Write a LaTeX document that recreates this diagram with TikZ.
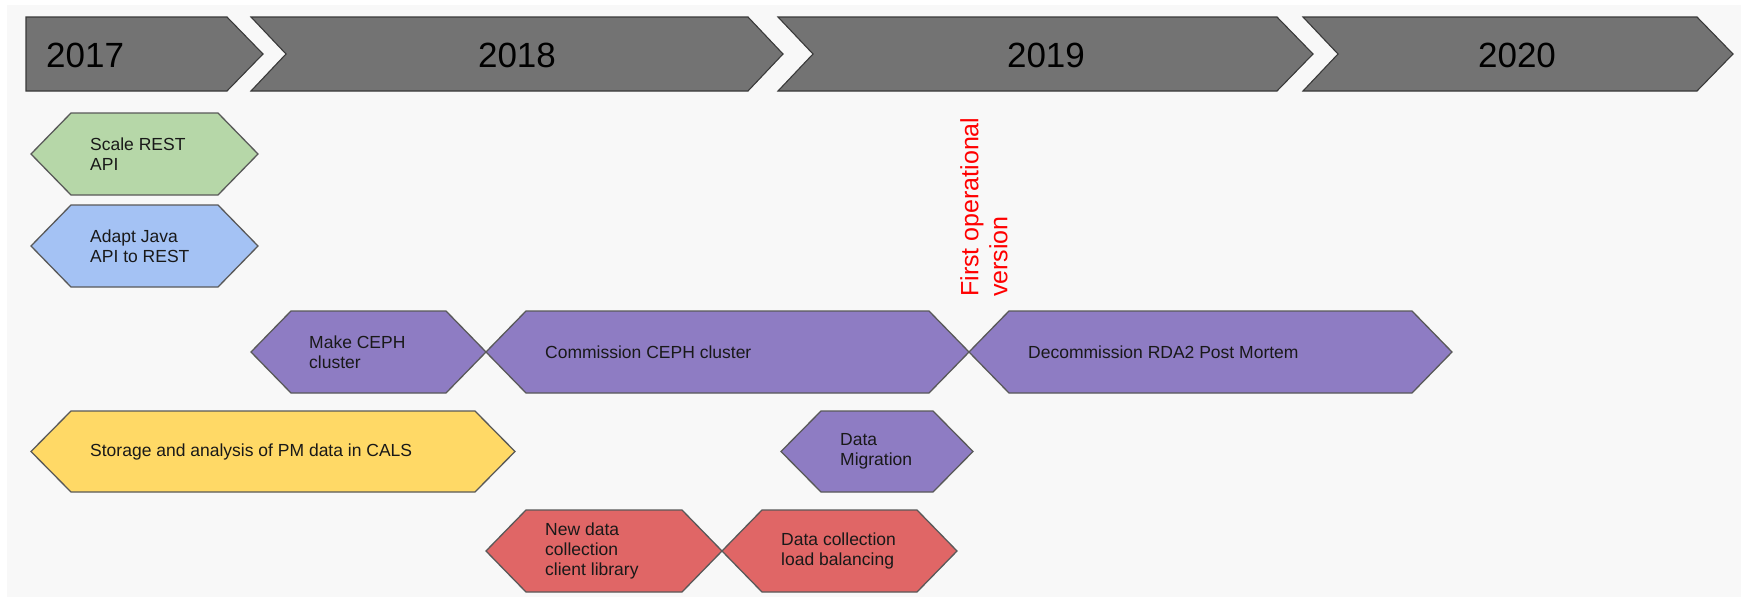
\documentclass[tikz,border=0pt]{standalone}
\usepackage{fontspec}
\setmainfont{Liberation Sans}
\definecolor{pagebg}{HTML}{F8F8F8}
\definecolor{yearfill}{HTML}{737373}
\definecolor{yearline}{HTML}{3A3A3A}
\definecolor{taskline}{HTML}{595959}
\definecolor{greenfill}{HTML}{B6D7A8}
\definecolor{bluefill}{HTML}{A4C2F4}
\definecolor{purplefill}{HTML}{8E7CC3}
\definecolor{yellowfill}{HTML}{FFD966}
\definecolor{redfill}{HTML}{E06666}
% hexagonal task bar: fill, left tip x, right tip x, top y, bottom y
\newcommand{\taskbar}[5]{%
  \filldraw[taskbox, fill=#1] (#2,{(#4+#5)/2}) -- ({#2+40},#4) -- ({#3-40},#4)
    -- (#3,{(#4+#5)/2}) -- ({#3-40},#5) -- ({#2+40},#5) -- cycle;}
\begin{document}
\begin{tikzpicture}[x=1pt,y=-1pt,
  yearbox/.style={fill=yearfill, draw=yearline, line width=1.1pt, line join=miter},
  taskbox/.style={draw=taskline, line width=1.3pt, line join=miter},
  yearlabel/.style={inner sep=0pt, font=\fontsize{35}{40}\selectfont, text=black},
  tasklabel/.style={anchor=west, align=left, inner sep=0pt,
    font=\fontsize{17.5}{20}\selectfont, text=black!90},
  milestonelabel/.style={rotate=90, anchor=north west, align=left, inner sep=0pt,
    font=\fontsize{25}{29}\selectfont, text=red}]
\useasboundingbox (0,0) rectangle (1741,597);
\fill[white] (0,0) rectangle (1741,597);
\fill[pagebg] (7,5) rectangle (1741,597);

% year chevrons
\filldraw[yearbox] (26,17) -- (227,17) -- (263,54) -- (227,91) -- (26,91) -- cycle;
\filldraw[yearbox] (251,17) -- (748,17) -- (783,54) -- (748,91) -- (251,91) -- (286,54) -- cycle;
\filldraw[yearbox] (778,17) -- (1277,17) -- (1313,54) -- (1277,91) -- (778,91) -- (813,54) -- cycle;
\filldraw[yearbox] (1303,17) -- (1697,17) -- (1733,54) -- (1697,91) -- (1303,91) -- (1338,54) -- cycle;
\node[yearlabel, anchor=base west] (y2017) at (46,67) {2017};
\node[yearlabel, anchor=base] (y2018) at (517,67) {2018};
\node[yearlabel, anchor=base] (y2019) at (1046,67) {2019};
\node[yearlabel, anchor=base] (y2020) at (1517,67) {2020};

% tasks
\taskbar{greenfill}{31}{258}{113}{195}
\node[tasklabel] (scalerest) at (90,154) {Scale REST\\API};
\taskbar{bluefill}{31}{258}{205}{287}
\node[tasklabel] (adaptjava) at (90,246) {Adapt Java\\API to REST};

\taskbar{purplefill}{251}{486}{311}{393}
\node[tasklabel] (makeceph) at (309,352) {Make CEPH\\cluster};
\taskbar{purplefill}{486}{969}{311}{393}
\node[tasklabel] (commission) at (545,352) {Commission CEPH cluster};
\taskbar{purplefill}{969}{1452}{311}{393}
\node[tasklabel] (decommission) at (1028,352) {Decommission RDA2 Post Mortem};

\taskbar{yellowfill}{31}{515}{411}{492}
\node[tasklabel] (storage) at (90,451.5) {Storage and analysis of PM data in CALS};
\taskbar{purplefill}{781}{973}{411}{492}
\node[tasklabel] (migration) at (840,451.5) {Data\\Migration};

\taskbar{redfill}{486}{722}{510}{592}
\node[tasklabel] (newclient) at (545,551) {New data\\collection\\client library};
\taskbar{redfill}{722}{957}{510}{592}
\node[tasklabel] (loadbal) at (781,551) {Data collection\\load balancing};

% milestone
\node[milestonelabel] (firstop) at (960,297) {First operational\\version};
\end{tikzpicture}
\end{document}
